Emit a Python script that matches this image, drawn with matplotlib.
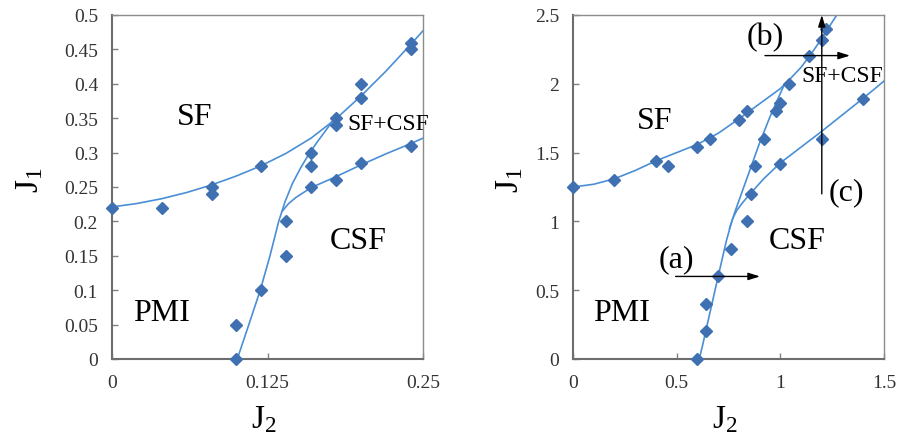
import matplotlib
matplotlib.use("Agg")
import matplotlib.pyplot as plt
import numpy as np

plt.rcParams['font.family'] = ['Liberation Serif', 'DejaVu Serif']
plt.rcParams['mathtext.fontset'] = 'custom'
plt.rcParams['mathtext.rm'] = 'Liberation Serif'
plt.rcParams['mathtext.it'] = 'Liberation Serif:italic'

MARK = '#3f70b2'
LINE = '#4a8fd6'

# ---- left panel: J2 in [0, 0.25] ----
left_pts_x = [0, 0.04, 0.08, 0.08, 0.12, 0.16, 0.16, 0.18, 0.18, 0.20, 0.20, 0.24, 0.24,
              0.10, 0.10, 0.12, 0.14, 0.14, 0.16, 0.18, 0.20, 0.24]
left_pts_y = [0.22, 0.22, 0.25, 0.24, 0.28, 0.30, 0.28, 0.35, 0.34, 0.40, 0.38, 0.46, 0.45,
              0.0, 0.05, 0.10, 0.20, 0.15, 0.25, 0.26, 0.285, 0.31]

# boundary curves
left_sf_x = [0, 0.02, 0.04, 0.06, 0.08, 0.10, 0.12, 0.14, 0.16, 0.18, 0.20, 0.22, 0.24, 0.25]
left_sf_y = [0.221, 0.226, 0.233, 0.242, 0.253, 0.266, 0.281, 0.299, 0.321, 0.349,
             0.382, 0.418, 0.457, 0.477]
left_pmi_x = [0.1007, 0.11, 0.119, 0.127, 0.134, 0.139, 0.145, 0.152, 0.159, 0.166, 0.173, 0.179]
left_pmi_y = [0.0, 0.05, 0.099, 0.15, 0.20, 0.228, 0.255, 0.279, 0.300, 0.318, 0.335, 0.351]
left_csf_x = [0.137, 0.142, 0.148, 0.154, 0.16, 0.17, 0.18, 0.20, 0.22, 0.24, 0.25]
left_csf_y = [0.215, 0.226, 0.235, 0.242, 0.249, 0.257, 0.265, 0.282, 0.298, 0.313, 0.321]

# ---- right panel: J2 in [0, 1.5] ----
right_pts_x = [0, 0.2, 0.4, 0.46, 0.6, 0.66, 0.8, 0.84, 0.98, 1.0, 1.04, 1.14, 1.2, 1.22,
               0.6, 0.64, 0.64, 0.7, 0.76, 0.84, 0.86, 0.88, 0.92, 1.0, 1.2, 1.4]
right_pts_y = [1.25, 1.3, 1.44, 1.4, 1.54, 1.6, 1.74, 1.8, 1.8, 1.86, 2.0, 2.2, 2.32, 2.4,
               0.0, 0.2, 0.4, 0.6, 0.8, 1.0, 1.2, 1.4, 1.6, 1.42, 1.6, 1.89]

right_sf_x = [0, 0.1, 0.2, 0.3, 0.4, 0.5, 0.6, 0.7, 0.8, 0.9, 1.0, 1.05, 1.1, 1.15, 1.2, 1.272]
right_sf_y = [1.25, 1.27, 1.31, 1.37, 1.44, 1.50, 1.56, 1.64, 1.745, 1.855, 1.965, 2.04,
              2.12, 2.22, 2.33, 2.5]
right_pmi_x = [0.609, 0.625, 0.64, 0.67, 0.70, 0.72, 0.74, 0.76, 0.78, 0.80, 0.85, 0.90,
               0.95, 1.0, 1.015]
right_pmi_y = [0.0, 0.1, 0.2, 0.4, 0.6, 0.73, 0.86, 0.97, 1.065, 1.15, 1.36, 1.57,
               1.76, 1.93, 1.98]
right_csf_x = [0.755, 0.77, 0.79, 0.82, 0.86, 0.92, 1.0, 1.1, 1.2, 1.3, 1.4, 1.5]
right_csf_y = [0.95, 1.02, 1.08, 1.14, 1.21, 1.31, 1.425, 1.54, 1.655, 1.775, 1.895, 2.02]


def style_axes(ax, xticks, xlabels, yticks, ylabels):
    ax.set_xticks(xticks)
    ax.set_xticklabels(xlabels)
    ax.set_yticks(yticks)
    ax.set_yticklabels(ylabels)
    ax.tick_params(direction='in', length=4, width=1, color='#808080',
                   labelsize=14, labelcolor='#333333')
    ax.tick_params(axis='y', pad=10)
    ax.tick_params(axis='x', pad=11)
    for s in ['top', 'right']:
        ax.spines[s].set_color('#8c8c8c')
        ax.spines[s].set_linewidth(1.0)
    for s in ['left', 'bottom']:
        ax.spines[s].set_color('#6e6e6e')
        ax.spines[s].set_linewidth(1.5)


fig = plt.figure(figsize=(8.99, 4.39), dpi=100)
ax1 = fig.add_axes([112 / 899, 79 / 439, 311 / 899, 344 / 439])
ax2 = fig.add_axes([573 / 899, 79 / 439, 311 / 899, 344 / 439])

# left
for cx, cy in [(left_sf_x, left_sf_y), (left_pmi_x, left_pmi_y), (left_csf_x, left_csf_y)]:
    ax1.plot(cx, cy, color=LINE, lw=1.2, zorder=2)
ax1.plot(left_pts_x, left_pts_y, 'D', color=MARK, ms=6.6, mec=MARK, zorder=3, clip_on=False)
ax1.set_xlim(0, 0.25)
ax1.set_ylim(0, 0.5)
style_axes(ax1, [0, 0.125, 0.25], ['0', '0.125', '0.25'],
           np.arange(0, 0.501, 0.05),
           ['0', '0.05', '0.1', '0.15', '0.2', '0.25', '0.3', '0.35', '0.4', '0.45', '0.5'])

ax1.text(0.0667, 0.352, 'SF', fontsize=23, ha='center', va='center')
ax1.text(0.222, 0.342, 'SF+CSF', fontsize=17, ha='center', va='center')
ax1.text(0.198, 0.172, 'CSF', fontsize=23, ha='center', va='center')
ax1.text(0.04, 0.068, 'PMI', fontsize=23, ha='center', va='center')

# right
for cx, cy in [(right_sf_x, right_sf_y), (right_pmi_x, right_pmi_y), (right_csf_x, right_csf_y)]:
    ax2.plot(cx, cy, color=LINE, lw=1.2, zorder=2)
ax2.plot(right_pts_x, right_pts_y, 'D', color=MARK, ms=6.6, mec=MARK, zorder=3, clip_on=False)
ax2.set_xlim(0, 1.5)
ax2.set_ylim(0, 2.5)
style_axes(ax2, [0, 0.5, 1, 1.5], ['0', '0.5', '1', '1.5'],
           [0, 0.5, 1, 1.5, 2, 2.5], ['0', '0.5', '1', '1.5', '2', '2.5'])

ax2.text(0.396, 1.73, 'SF', fontsize=23, ha='center', va='center')
ax2.text(1.30, 2.06, 'SF+CSF', fontsize=17, ha='center', va='center')
ax2.text(1.08, 0.86, 'CSF', fontsize=23, ha='center', va='center')
ax2.text(0.235, 0.34, 'PMI', fontsize=23, ha='center', va='center')

arrow = dict(arrowstyle='-|>,head_length=0.7,head_width=0.22', color='black', lw=1.0,
             shrinkA=0, shrinkB=0)
ax2.annotate('', xy=(0.902, 0.60), xytext=(0.495, 0.60), arrowprops=arrow)
ax2.annotate('', xy=(1.336, 2.205), xytext=(0.926, 2.205), arrowprops=arrow)
ax2.annotate('', xy=(1.2, 2.5), xytext=(1.2, 1.2), arrowprops=arrow, annotation_clip=False)
ax2.text(0.50, 0.727, '(a)', fontsize=23, ha='center', va='center')
ax2.text(0.926, 2.34, '(b)', fontsize=23, ha='center', va='center')
ax2.text(1.32, 1.216, '(c)', fontsize=23, ha='center', va='center')

# axis labels
fig.text(30 / 899, 1 - 180 / 439, r'$\mathrm{J}_1$', rotation=90, fontsize=24,
         ha='center', va='center')
fig.text(510 / 899, 1 - 180 / 439, r'$\mathrm{J}_1$', rotation=90, fontsize=24,
         ha='center', va='center')
fig.text(264 / 899, 1 - 420 / 439, r'$\mathrm{J}_2$', fontsize=24, ha='center', va='center')
fig.text(725 / 899, 1 - 420 / 439, r'$\mathrm{J}_2$', fontsize=24, ha='center', va='center')

fig.savefig('out.png', dpi=100)
